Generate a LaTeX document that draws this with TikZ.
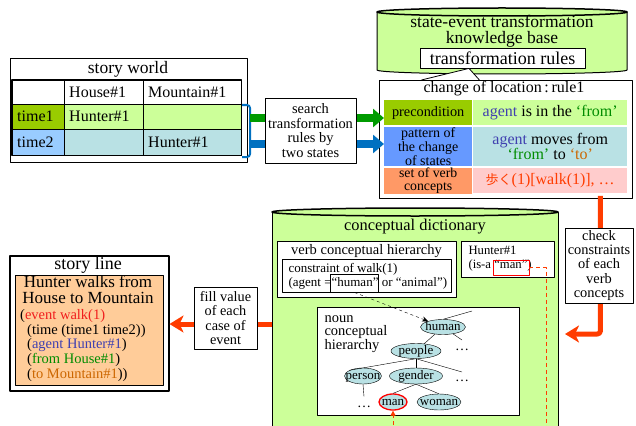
\documentclass[tikz,border=0pt]{standalone}
\usepackage{fontspec}
\setmainfont{Liberation Serif}
\newfontfamily\cjk{Noto Sans CJK JP}
\usetikzlibrary{arrows.meta,positioning,shapes.geometric}

\definecolor{lightlime}{RGB}{204,255,153}
\definecolor{darklime}{RGB}{153,204,0}
\definecolor{skyblue}{RGB}{153,204,255}
\definecolor{paleteal}{RGB}{185,225,228}
\definecolor{cellblue}{RGB}{102,153,255}
\definecolor{cellorange}{RGB}{255,153,102}
\definecolor{palepink}{RGB}{255,204,204}
\definecolor{peach}{RGB}{255,204,153}
\definecolor{redline}{RGB}{255,60,0}
\definecolor{eventred}{RGB}{240,30,30}
\definecolor{agentblue}{RGB}{64,64,176}
\definecolor{fromgreen}{RGB}{0,140,0}
\definecolor{toorange}{RGB}{204,102,0}
\definecolor{arrowgreen}{RGB}{0,155,0}
\definecolor{arrowblue}{RGB}{0,112,192}

\newcommand{\fs}[2]{\fontsize{#1}{#2}\selectfont}
\newcommand{\ctext}[1]{\makebox[0pt]{\raisebox{-.6ex}[0pt][0pt]{#1}}}

\begin{document}
\begin{tikzpicture}[x=1pt,y=-1pt,line join=round]
  \tikzstyle{box}=[draw, fill=white, line width=0.8pt, inner sep=1pt, align=center]
  \tikzstyle{frame}=[draw, fill=white, line width=0.8pt, anchor=north west, inner sep=0pt]
  \tikzstyle{cell}=[draw, anchor=north west, minimum height=25pt, inner xsep=5pt, inner ysep=0pt, align=left, font=\fs{16}{17}]
  \tikzstyle{rcell}=[anchor=north west, inner sep=0pt, align=center]
  \tikzstyle{concept}=[ellipse, draw, fill=paleteal, inner sep=0pt, minimum height=15pt, font=\fs{13}{13}]
  \tikzstyle{fat arrow}=[line width=5pt, redline, -{Stealth[length=14pt,width=17pt,inset=4pt]}]
  \tikzstyle{bar arrow}=[line width=8pt, -{Triangle[length=11pt,width=18pt]}]

  \useasboundingbox (0,0) rectangle (636,425);
  \clip (0,0) rectangle (636,425);

  % story world table
  \node[frame, line width=1.2pt, minimum width=237pt, minimum height=104pt] (world) at (10,58) {};
  \node[font=\fs{17.5}{17.5}] (worldtitle) at (128,69) {story world};
  \node[cell, text width=42pt, minimum height=24pt] (h0) at (12,80) {};
  \node[cell, text width=69pt, minimum height=24pt] (h1) at (64,80) {House\#1};
  \node[cell, text width=88pt, minimum height=24pt] (h2) at (143,80) {Mountain\#1};
  \node[cell, text width=42pt, fill=darklime] (t1) at (12,104) {time1};
  \node[cell, text width=69pt, fill=lightlime] (t1a) at (64,104) {Hunter\#1};
  \node[cell, text width=88pt, fill=lightlime] (t1b) at (143,104) {};
  \node[cell, text width=42pt, fill=skyblue, minimum height=26pt] (t2) at (12,129) {time2};
  \node[cell, text width=69pt, fill=paleteal, minimum height=26pt] (t2a) at (64,129) {};
  \node[cell, text width=88pt, fill=paleteal, minimum height=26pt] (t2b) at (143,129) {Hunter\#1};
  \draw[line width=1.5pt] (h0.north west) rectangle (t2b.south east);

  % knowledge base
  \path[draw, fill=lightlime, line width=1pt] (377,12) -- (377,70)
    arc[start angle=180, end angle=360, x radius=125pt, y radius=4pt] -- (627,12) -- cycle;
  \draw[fill=lightlime, line width=1.5pt] (502,12) ellipse[x radius=125pt, y radius=4pt];
  \node[font=\fs{17.5}{16}, align=center] (kbtitle) at (502,31) {state-event transformation\\knowledge base};
  \node[box, font=\fs{18}{18}, minimum width=165pt, minimum height=20pt] (rules) at (502.5,58) {transformation rules};

  \node[frame, minimum width=253pt, minimum height=118pt] (rule) at (379,80) {};
  \draw[fill=white, line width=0.8pt] ([xshift=-84.5pt]rule.north) -- ([xshift=-33.5pt]rules.south) -- ([xshift=-26.5pt]rule.north);
  \node[font=\fs{16}{16}] (ruletitle) at (504,89) {change of location\,:\,rule1};
  \node[rcell, fill=darklime, minimum width=88pt, minimum height=25pt, font=\fs{14.3}{14.3}] (pre) at (384,100) {precondition};
  \node[rcell, fill=lightlime, minimum width=154pt, minimum height=25pt, font=\fs{16}{16}] (prev) at (473,100)
    {\textcolor{agentblue}{agent} is in the \textcolor{fromgreen}{‘from’}};
  \node[rcell, fill=cellblue, minimum width=88pt, minimum height=39pt, font=\fs{14}{12.2}] (pat) at (384,127) {pattern of\\the change\\of states};
  \node[rcell, fill=paleteal, minimum width=154pt, minimum height=39pt, font=\fs{16}{15}] (patv) at (473,127)
    {\textcolor{agentblue}{agent} moves from\\\textcolor{fromgreen}{‘from’} to \textcolor{toorange}{‘to’}};
  \node[rcell, fill=cellorange, minimum width=88pt, minimum height=25pt, font=\fs{13.8}{12.8}] (verb) at (384,168) {set of verb\\concepts};
  \node[rcell, fill=palepink, minimum width=154pt, minimum height=25pt, font=\fs{16}{16}, text=redline] (verbv) at (473,168)
    {{\cjk\fs{13}{13}歩く}(1)[walk(1)], …};

  % search by two states
  \draw[arrowblue, line width=2pt, rounded corners=3pt] (242,105) -- (250,105) -- (250,157) -- (242,157);
  \coordinate (gstart) at (250,118);
  \coordinate (bstart) at (250,144);
  \draw[bar arrow, arrowgreen] (gstart) -- (gstart -| pre.west);
  \draw[bar arrow, arrowblue] (bstart) -- (bstart -| pat.west);
  \node[box, font=\fs{14.4}{14.7}, minimum width=91pt, minimum height=65pt] (search) at (310.5,130.5) {search\\transformation\\rules by\\two states};

  % story line
  \node[frame, line width=1.5pt, minimum width=159pt, minimum height=135pt] (story) at (9,255) {};
  \node[font=\fs{18}{18}] (storytitle) at (88,265) {story line};
  \node[frame, fill=peach, minimum width=148pt, minimum height=110pt] (storybody) at (15,275) {};
  \node[font=\fs{17}{16}, align=center] (storyhead) at (88,290) {Hunter walks from\\House to Mountain};
  \node[font=\fs{14.5}{14.6}, align=left, anchor=north west, inner sep=0pt] (storyevent) at (20,309.5)
    {(\textcolor{eventred}{event walk(1)}\\
     \hspace*{7pt}(time (time1 time2))\\
     \hspace*{7pt}(\textcolor{agentblue}{agent Hunter\#1})\\
     \hspace*{7pt}(\textcolor{fromgreen}{from House\#1})\\
     \hspace*{7pt}(\textcolor{toorange}{to Mountain\#1}))};

  % conceptual dictionary
  \path[draw, fill=lightlime, line width=1pt] (272,212) -- (272,440) -- (558,440) -- (558,212) -- cycle;
  \draw[fill=lightlime, line width=1.5pt] (415,212) ellipse[x radius=143pt, y radius=4pt];
  \node[font=\fs{16.4}{16}] (dicttitle) at (415,227) {conceptual dictionary};

  \node[frame, minimum width=179pt, minimum height=56pt] (verbh) at (277,241) {};
  \node[font=\fs{14.5}{14.5}] (verbhtitle) at (366.5,251) {verb conceptual hierarchy};
  \node[frame, line width=1.2pt, minimum width=169pt, minimum height=33pt] (constraint) at (282,259) {};
  \node[font=\fs{13}{14}, align=left, anchor=west] (constrainttext) at (285,276)
    {constraint of walk(1)\\(agent =“human” or “animal”)};
  \node[draw, line width=0.9pt, minimum width=48pt, minimum height=18pt, inner sep=0pt] (humanbox) at (354.5,283) {};

  \node[frame, minimum width=93pt, minimum height=36pt] (hunter) at (461,241) {};
  \node[font=\fs{12.7}{14}, align=left, anchor=west] (huntertext) at (465,259) {Hunter\#1\\(is-a “man”)};
  \node[draw=red, line width=0.9pt, minimum width=36pt, minimum height=15pt, inner sep=0pt] (manbox) at (511,267.5) {};

  \node[frame, minimum width=202pt, minimum height=108pt] (noun) at (317,307) {};
  \node[font=\fs{14.5}{13.5}, align=left, anchor=west] (nountitle) at (321,334) {noun\\conceptual\\hierarchy};

  \node[concept, minimum width=45pt] (human) at (443,327) {\ctext{human}};
  \node[concept, minimum width=50pt] (people) at (416,351) {\ctext{people}};
  \node[concept, minimum width=37pt, minimum height=16pt] (person) at (363,376) {\ctext{person}};
  \node[concept, minimum width=53pt, minimum height=16pt] (gender) at (416,376) {\ctext{gender}};
  \node[concept, minimum width=28pt, minimum height=16pt, draw=red, line width=1.3pt] (man) at (393,402) {\ctext{man}};
  \node[concept, minimum width=44pt, minimum height=16pt] (woman) at (439,402) {\ctext{woman}};
  \node[font=\fs{14}{14}] (dotsa) at (462,350) {…};
  \node[font=\fs{14}{14}] (dotsb) at (462,381) {…};
  \node[font=\fs{14}{14}] (dotsc) at (364,407) {…};

  \coordinate (humanup) at (472,311);
  \coordinate (humanmore) at (462,340);
  \coordinate (peoplemore) at (462,372);
  \draw (human.north) -- (humanup);
  \draw (human) -- (humanmore);
  \draw (human) -- (people);
  \draw (people.south) -- (person.north west);
  \draw (people.south) -- (gender.north);
  \draw (people.south) -- (peoplemore);
  \draw (gender.south) -- (man.north);
  \draw (gender.south) -- (woman.north);
  \draw (person.south) -- ([yshift=6pt]dotsc.north);

  \draw[dashed, -{Stealth[length=6pt,width=5pt]}] (humanbox.south) -- (human);
  \draw[redline, line width=0.8pt, dash pattern=on 4pt off 3pt, -{Triangle[length=5pt,width=5pt]}]
    (manbox.east) -| (546,440) -| (man.south);

  % red connectors
  \coordinate (dictE) at (565,334);
  \draw[fat arrow, rounded corners=3pt] ([xshift=94.5pt,yshift=3pt]rule.south) |- (dictE);
  \node[box, font=\fs{14.4}{14.2}, minimum width=68pt, minimum height=75pt] (check) at (599,265.5)
    {check\\constraints\\of each\\verb\\concepts};

  \coordinate (dictW) at (272,324);
  \draw[fat arrow] (dictW) -- (dictW -| story.east);
  \node[box, font=\fs{14.3}{14.4}, minimum width=63pt, minimum height=62pt] (fill) at (225.5,318)
    {fill value\\of each\\case of\\event};
\end{tikzpicture}
\end{document}
